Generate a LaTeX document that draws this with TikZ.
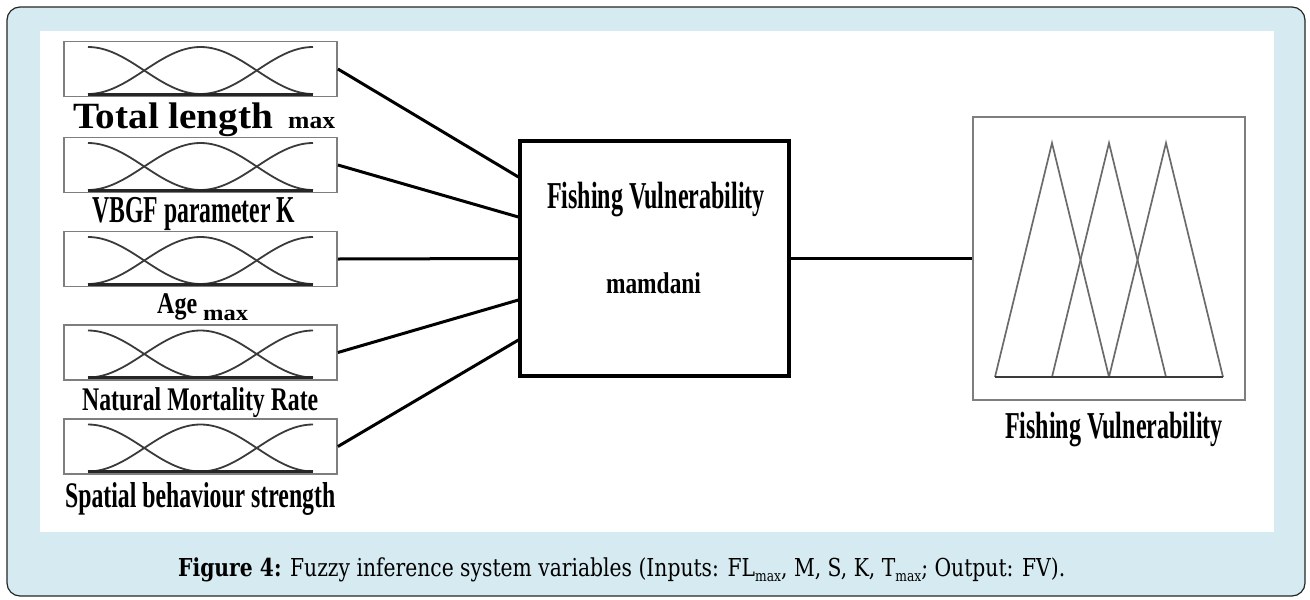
\documentclass[tikz,border=0pt]{standalone}
\usepackage{fontspec}
\usepackage{graphicx}
\setmainfont{Liberation Serif}
\newfontfamily\capfont{DejaVu Serif}
\usetikzlibrary{calc}
\definecolor{panelblue}{HTML}{D6EBF1}
\definecolor{boxgray}{HTML}{7E7E7E}
\definecolor{curvegray}{HTML}{3A3A3A}
\newcommand\fsz[1]{\fontsize{#1}{#1}\selectfont}
\newcommand\hfit[2]{\resizebox{#1}{\height}{#2}}
\newcommand\capsub[1]{\raisebox{-5pt}{\fsz{15}#1}}
\begin{document}
\begin{tikzpicture}[x=1pt,y=-1pt,
 inbox/.style={draw=boxgray,line width=1.8pt,minimum width=273pt,minimum height=55pt,inner sep=0pt},
 mf/.style={draw=curvegray,line width=1.8pt},
 mfbase/.style={draw=black!85,line width=3pt},
 tri/.style={draw=curvegray!75,line width=1.7pt},
 conn/.style={draw=black,line width=3pt},
 lbl/.style={inner sep=0pt,font=\bfseries,text=black},
]
\useasboundingbox (0,0) rectangle (1310,600);
\draw[fill=panelblue,draw=black!85,line width=1.2pt,rounded corners=13pt] (7,7) rectangle (1305,596);
\fill[white] (40,31) rectangle (1274,532);

\foreach \n/\yy in {1/69,2/165,3/259,4/352.5,5/446.5}{
 \node[inbox] (in\n) at (200.5,\yy) {};
 \begin{scope}[shift={(in\n.center)}]
  \draw[mf] (-112.5,-22) .. controls (-71.5,-22) and (-41,25) .. (0,25);
  \draw[mf] (-112.5,25) .. controls (-71.5,25) and (-41,-22) .. (0,-22) .. controls (41,-22) and (71.5,25) .. (112.5,25);
  \draw[mf] (0,25) .. controls (41,25) and (71.5,-22) .. (112.5,-22);
  \draw[mfbase] (-112.5,25) -- (112.5,25);
 \end{scope}
}

\node[lbl,anchor=base west] (l1) at (73,128) {\hfit{200pt}{\fsz{37}Total length}\hspace{15pt}\hfit{47pt}{\fsz{24}max}};
\node[lbl,anchor=base west] (l2) at (92,222) {\hfit{203pt}{\fsz{38}VBGF parameter K}};
\node[lbl,anchor=base west] (l3) at (157,313) {\hfit{40pt}{\fsz{30}Age}\hspace{6pt}\raisebox{-7pt}{\hfit{45pt}{\fsz{22}max}}};
\node[lbl,anchor=base west] (l4) at (82,410) {\hfit{236pt}{\fsz{33}Natural Mortality Rate}};
\node[lbl,anchor=base west] (l5) at (65,507) {\hfit{270pt}{\fsz{36}Spatial behaviour strength}};

\node[draw=black,line width=3.2pt,minimum width=269pt,minimum height=235pt,inner sep=0pt] (mam) at (654.5,258.5) {};
\node[lbl,anchor=base] (mt1) at (656,208) {\hfit{218pt}{\fsz{38}Fishing Vulnerability}};
\node[lbl,anchor=base] (mt2) at (653.5,293) {\hfit{95pt}{\fsz{30}mamdani}};

\node[draw=boxgray,line width=2.2pt,minimum width=272pt,minimum height=283pt,inner sep=0pt] (out) at (1109,258.5) {};
\begin{scope}[shift={(out.center)}]
 \draw[tri] (-114,118.5) -- (-57,-115.5) -- (0,118.5);
 \draw[tri] (-57,118.5) -- (0,-115.5) -- (57,118.5);
 \draw[tri] (0,118.5) -- (57,-115.5) -- (114,118.5);
 \draw[mf,line width=2.2pt] (-114,118.5) -- (114,118.5);
\end{scope}
\node[lbl,anchor=base] (ol) at (1114,438) {\hfit{218pt}{\fsz{38}Fishing Vulnerability}};

\draw[conn] (in1.east) -- ($(mam.west)+(0,-81.5)$);
\draw[conn] (in2.east) -- ($(mam.west)+(0,-41.5)$);
\draw[conn] (in3.east) -- (mam.west);
\draw[conn] (in4.east) -- ($(mam.west)+(0,41.5)$);
\draw[conn] (in5.east) -- ($(mam.west)+(0,81.5)$);
\draw[conn] (mam.east) -- (out.west);

\node[inner sep=0pt,anchor=base west] (cap) at (178,576) {\hfit{887pt}{\capfont\fsz{24.7}\textbf{Figure 4:} Fuzzy inference system variables (Inputs: FL\capsub{max}, M, S, K, T\capsub{max}; Output: FV).}};
\end{tikzpicture}
\end{document}
